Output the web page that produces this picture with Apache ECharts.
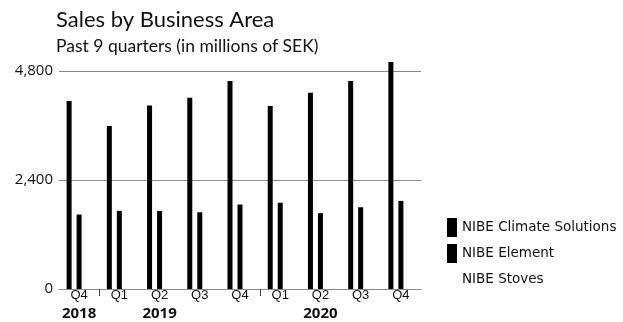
<!DOCTYPE html>
<html>
<head>
<meta charset="utf-8">
<script src="https://cdn.jsdelivr.net/npm/echarts@6/dist/echarts.min.js"></script>
<style>
  html, body { margin: 0; padding: 0; background: #fff; }
  #chart { width: 623px; height: 322px; }
</style>
</head>
<body>
<div id="chart"></div>
<script>
// Quarterly sales per business area, MSEK
const quarters = ['Q4', 'Q1', 'Q2', 'Q3', 'Q4', 'Q1', 'Q2', 'Q3', 'Q4'];
const yearLabels = ['2018', '', '2019', '', '', '', '2020', '', ''];
const yearBoundaries = [1, 5];
const climateSolutions = [4140, 3590, 4040, 4210, 4580, 4030, 4320, 4580, 5000];
const element = [1640, 1720, 1720, 1690, 1860, 1900, 1670, 1800, 1940];
const stoves = [930, 800, 860, 900, 1000, 820, 830, 960, 1020];
const yTicks = [0, 2400, 4800];

const titleFont = 'Lato, "Noto Sans", sans-serif';
const font = '"Open Sans", "Noto Sans", sans-serif';
const legendFont = '"DejaVu Sans", Verdana, sans-serif';
const axisFont = '"Liberation Sans", Arial, sans-serif';

const chart = echarts.init(document.getElementById('chart'), null, { renderer: 'canvas' });

chart.setOption({
  animation: false,
  title: {
    text: 'Sales by Business Area',
    subtext: 'Past 9 quarters (in millions of SEK)',
    left: 56,
    top: 9,
    padding: 0,
    itemGap: 6,
    textStyle: { fontFamily: titleFont, fontSize: 22, fontWeight: 'normal', color: '#111' },
    subtextStyle: { fontFamily: titleFont, fontSize: 17.5, color: '#111' }
  },
  legend: {
    orient: 'vertical',
    left: 447,
    top: 218,
    padding: 0,
    itemWidth: 10,
    itemHeight: 19,
    itemGap: 7,
    icon: 'rect',
    textStyle: { fontFamily: legendFont, fontSize: 13.5, color: '#111' },
    data: ['NIBE Climate Solutions', 'NIBE Element', 'NIBE Stoves']
  },
  grid: { left: 59, right: 202, top: 71, bottom: 33, containLabel: false, outerBoundsMode: 'none' },
  xAxis: [
    {
      type: 'category',
      data: quarters,
      axisLine: { lineStyle: { color: '#8a8a8a', width: 1 } },
      axisTick: { show: false },
      axisLabel: {
        margin: 0,
        interval: 0,
        fontFamily: axisFont,
        fontSize: 13,
        color: '#111',
        lineHeight: 13,
        formatter: (v, i) => v + '\n{y|' + (yearLabels[i] || ' ') + '}',
        rich: {
          y: { fontFamily: font, fontSize: 15, fontWeight: 'bold', color: '#111', lineHeight: 24 }
        }
      }
    },
    {
      // year separators at the category boundaries
      type: 'value',
      position: 'bottom',
      min: 0,
      max: quarters.length,
      axisLine: { show: false },
      splitLine: { show: false },
      axisLabel: { show: false },
      axisTick: {
        show: true,
        length: 7,
        customValues: yearBoundaries,
        lineStyle: { color: '#444', width: 1 }
      }
    }
  ],
  yAxis: {
    type: 'value',
    min: yTicks[0],
    max: yTicks[yTicks.length - 1],
    interval: yTicks[1] - yTicks[0],
    axisLine: { show: false },
    axisTick: { show: false },
    splitLine: { lineStyle: { color: '#8a8a8a', width: 1 } },
    axisLabel: {
      margin: 6,
      fontFamily: font,
      fontSize: 15,
      color: '#111',
      formatter: (v) => v.toLocaleString('en-US')
    }
  },
  series: [
    {
      name: 'NIBE Climate Solutions', type: 'bar', data: climateSolutions,
      barWidth: 5, barGap: '100%', clip: false,
      itemStyle: { color: '#000' }
    },
    {
      name: 'NIBE Element', type: 'bar', data: element,
      barWidth: 5, barGap: '100%', clip: false,
      itemStyle: { color: '#000' }
    },
    {
      name: 'NIBE Stoves', type: 'bar', data: stoves,
      barWidth: 5, barGap: '100%', clip: false,
      itemStyle: { color: '#ffffff' }
    }
  ]
});
</script>
</body>
</html>
